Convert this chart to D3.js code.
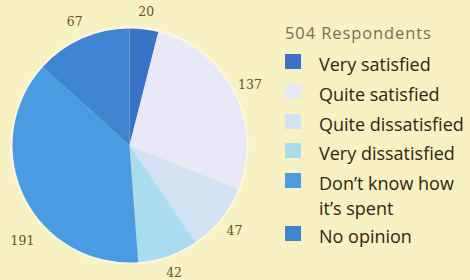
<!DOCTYPE html>
<html>
<head>
<meta charset="utf-8">
<script src="https://cdn.jsdelivr.net/npm/d3@7"></script>
<style>
  html, body { margin: 0; padding: 0; background: #f8f1c4; }
  svg { display: block; }
</style>
</head>
<body>
<svg id="chart" width="470" height="280"></svg>
<script>
// survey answers, clockwise from 12 o'clock
var categories = ['Very satisfied', 'Quite satisfied', 'Quite dissatisfied', 'Very dissatisfied', "Don\u2019t know how it\u2019s spent", 'No opinion'];
var counts = [20, 137, 47, 42, 191, 67];
var colors = ['#3a72c8', '#e8e8f7', '#d3e2f3', '#aadcf0', '#4a9ce2', '#3f84d0'];
var title = '504 Respondents';

var svg = d3.select('#chart');
var cx = 129.5, cy = 145.5, radius = 117;

var pie = d3.pie().sort(null).value(function (d) { return d; });
var arcs = pie(counts);
var arc = d3.arc().innerRadius(0).outerRadius(radius);

var g = svg.append('g').attr('transform', 'translate(' + cx + ',' + cy + ')');

// soft pale rim round the pie
g.append('circle').attr('r', radius + 1).attr('fill', 'none')
    .attr('stroke', '#ffffff').attr('stroke-opacity', 0.45).attr('stroke-width', 2.5);

g.selectAll('path.slice').data(arcs).enter().append('path')
    .attr('class', 'slice')
    .attr('d', arc)
    .attr('fill', function (d, i) { return colors[i]; });

// the big slice's label sits lower than its middle in the original
function labelPos(d, i) {
    var shift = i === 4 ? -0.27 : 0;
    var a = (d.startAngle + d.endAngle) / 2 + shift;
    var r = i === 4 ? 143 : 135;
    return [Math.sin(a) * r, -Math.cos(a) * r];
}

g.selectAll('text.val').data(arcs).enter().append('text')
    .attr('class', 'val')
    .attr('transform', function (d, i) { return 'translate(' + labelPos(d, i) + ')'; })
    .attr('text-anchor', 'middle')
    .attr('dy', '0.35em')
    .style('font-family', 'Georgia, "DejaVu Serif", serif')
    .style('font-size', '12.5px')
    .style('fill', '#6e4e26')
    .text(function (d) { return d.data; });

// legend
var lg = svg.append('g').attr('transform', 'translate(285,0)');
lg.append('text')
    .attr('x', 0).attr('y', 39)
    .style('font-family', '"Open Sans", sans-serif')
    .style('font-size', '16.5px')
    .style('letter-spacing', '0.9px')
    .style('fill', '#7c6c52')
    .text(title);

var rowY = [71, 101, 131, 160, 190, 243];
var rows = lg.selectAll('g.row').data(categories).enter().append('g')
    .attr('class', 'row')
    .attr('transform', function (d, i) { return 'translate(0,' + rowY[i] + ')'; });

rows.append('rect')
    .attr('x', 0).attr('y', -17)
    .attr('width', 16).attr('height', 15)
    .attr('fill', function (d, i) { return colors[i]; });

// wrapped label gets two separate text lines so their boxes don't collide
rows.each(function (d) {
    var row = d3.select(this);
    var parts = d.indexOf('how') > 0 ? ["Don\u2019t know how", "it\u2019s spent"] : [d];
    parts.forEach(function (p, k) {
        row.append('text')
            .attr('x', 34).attr('y', k * 24.5)
            .style('font-family', '"Open Sans", sans-serif')
            .style('font-size', '18px')
            .style('fill', '#35230f')
            .text(p);
    });
});
</script>
</body>
</html>
